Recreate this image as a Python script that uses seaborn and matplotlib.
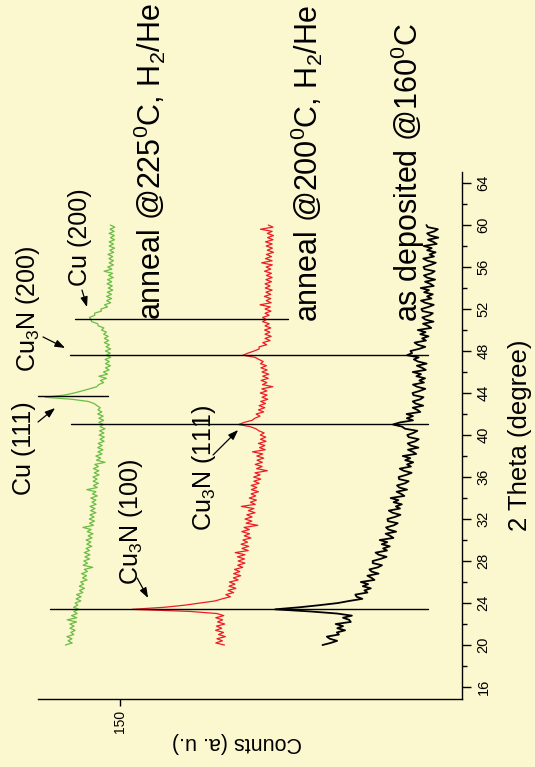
import numpy as np
import pandas as pd
import matplotlib
matplotlib.use("Agg")
import matplotlib.pyplot as plt
import seaborn as sns

# ---- XRD scans (2-theta in degrees, counts in arbitrary units, stacked) ----
two_theta = np.round(np.arange(20.0, 60.0001, 0.2), 1)

counts_225 = [
    174.0, 171.0, 172.8, 171.1, 173.3, 170.3, 171.6, 169.7, 172.0, 170.2,
    172.0, 169.1, 173.2, 169.0, 171.3, 168.8, 170.3, 168.0, 170.4, 168.5,
    169.7, 167.2, 169.3, 167.1, 169.1, 166.3, 167.8, 165.6, 167.9, 166.0,
    167.3, 164.5, 166.5, 164.7, 166.9, 164.3, 165.7, 162.0, 166.2, 164.3,
    165.9, 163.4, 165.4, 163.2, 165.7, 163.4, 164.9, 162.4, 164.6, 162.8,
    164.9, 162.3, 164.0, 161.9, 164.4, 162.7, 166.3, 161.7, 163.4, 161.2,
    163.5, 161.4, 163.2, 160.6, 162.9, 161.0, 163.2, 160.5, 162.3, 160.6,
    162.8, 160.0, 162.1, 160.6, 164.6, 160.0, 161.7, 159.5, 161.8, 160.1,
    161.9, 159.2, 161.3, 159.3, 161.7, 159.5, 161.1, 156.6, 160.3, 158.5,
    160.6, 157.9, 159.7, 157.5, 159.8, 157.9, 159.6, 157.0, 158.8, 156.9,
    159.2, 157.1, 159.0, 156.6, 158.8, 157.3, 159.3, 157.2, 159.3, 157.4,
    159.8, 158.0, 159.7, 158.7, 160.1, 161.4, 164.0, 171.0, 182.9, 174.6,
    170.2, 166.7, 163.5, 160.2, 159.4, 157.2, 158.6, 156.0, 159.3, 155.5,
    157.3, 154.8, 156.4, 154.2, 156.4, 154.7, 156.6, 154.1, 156.1, 154.3,
    156.4, 154.1, 156.1, 154.7, 156.9, 155.0, 156.9, 155.2, 157.2, 156.0,
    158.1, 157.1, 159.6, 159.8, 162.5, 162.8, 163.4, 161.1, 161.2, 158.2,
    158.4, 155.5, 156.8, 154.1, 155.9, 153.7, 155.9, 153.8, 155.6, 153.2,
    155.2, 153.4, 155.7, 153.7, 155.5, 153.0, 155.0, 153.3, 157.0, 153.6,
    155.4, 152.9, 154.8, 152.9, 154.9, 153.2, 155.3, 152.8, 154.5, 152.4,
    154.8, 152.9, 154.8, 152.4, 154.2, 152.5, 154.8, 152.6, 154.4, 152.3,
    154.3,
]

counts_200 = [
    104.2, 108.0, 105.1, 107.5, 103.8, 106.8, 104.6, 108.1, 105.4, 107.7,
    104.1, 107.2, 105.0, 108.0, 104.5, 107.5, 119.3, 144.7, 130.3, 121.5,
    114.9, 108.3, 105.2, 101.6, 103.6, 100.2, 102.6, 99.2, 102.2, 99.6,
    102.0, 98.2, 100.3, 97.1, 100.2, 97.5, 99.8, 96.2, 98.4, 95.2,
    98.2, 95.4, 98.5, 95.2, 99.5, 93.8, 96.5, 93.6, 96.9, 94.1,
    96.1, 92.6, 95.5, 93.2, 96.6, 93.3, 95.6, 89.6, 94.7, 92.2,
    95.2, 92.1, 94.4, 90.8, 93.7, 91.3, 96.8, 90.7, 92.8, 90.2,
    93.3, 90.5, 92.5, 89.3, 92.4, 90.0, 92.5, 89.0, 91.3, 88.3,
    91.4, 88.6, 90.8, 85.4, 90.1, 87.7, 90.7, 87.6, 89.9, 87.0,
    90.0, 87.4, 91.9, 86.3, 88.8, 86.5, 89.3, 86.0, 88.4, 86.1,
    88.5, 86.8, 89.1, 90.4, 93.0, 98.0, 95.6, 92.1, 90.9, 88.6,
    90.3, 87.0, 89.3, 86.5, 89.0, 86.2, 88.3, 85.2, 87.7, 85.5,
    88.5, 85.6, 87.8, 83.0, 87.5, 85.6, 88.1, 85.0, 87.4, 84.8,
    87.7, 85.5, 88.2, 85.8, 88.4, 87.2, 89.1, 90.8, 96.1, 93.9,
    91.2, 89.0, 89.0, 85.7, 87.4, 84.2, 86.4, 83.7, 86.4, 84.3,
    86.6, 83.9, 86.4, 84.6, 87.5, 85.8, 87.5, 84.6, 86.4, 83.8,
    86.4, 84.1, 88.6, 83.7, 85.9, 83.9, 86.7, 83.9, 86.0, 83.3,
    86.3, 84.2, 86.4, 83.6, 86.0, 83.3, 85.8, 83.6, 86.6, 83.9,
    85.9, 83.2, 87.9, 83.3, 86.2, 83.6, 85.8, 82.7, 85.4, 83.2,
    85.9, 83.3, 86.2, 82.9, 85.3, 82.7, 85.4, 83.3, 88.4, 82.9,
    85.0,
]

counts_160 = [
    61.2, 57.6, 54.8, 58.0, 59.3, 54.0, 54.9, 51.3, 54.7, 52.2,
    55.4, 48.8, 49.5, 52.2, 48.3, 54.8, 66.7, 82.0, 71.1, 62.3,
    54.4, 49.4, 43.7, 46.2, 46.8, 41.5, 42.8, 40.0, 43.5, 41.2,
    44.4, 38.4, 39.7, 41.5, 36.6, 39.7, 40.6, 36.9, 35.1, 39.1,
    39.2, 35.8, 33.1, 36.5, 37.9, 32.9, 34.6, 31.7, 35.2, 32.8,
    36.1, 30.1, 31.5, 33.5, 28.9, 32.3, 33.3, 29.9, 28.2, 32.5,
    32.7, 29.4, 27.0, 30.5, 32.1, 27.2, 29.0, 26.4, 30.0, 27.9,
    31.3, 25.3, 26.7, 28.7, 24.1, 27.5, 28.5, 25.0, 23.4, 27.6,
    27.8, 24.5, 22.1, 25.6, 27.3, 22.4, 24.1, 21.4, 24.9, 22.7,
    26.0, 20.1, 21.5, 23.7, 19.1, 22.6, 23.8, 20.5, 19.0, 23.4,
    24.0, 21.3, 19.6, 25.0, 26.3, 30.3, 27.2, 21.5, 24.2, 21.5,
    24.3, 18.3, 19.6, 21.6, 17.0, 20.4, 21.6, 18.3, 16.9, 21.3,
    21.7, 18.5, 16.1, 19.7, 21.5, 16.7, 18.7, 16.2, 20.0, 18.0,
    21.6, 15.9, 17.5, 19.8, 15.5, 19.3, 21.1, 19.0, 24.1, 21.9,
    22.6, 18.9, 16.1, 19.4, 20.8, 15.8, 17.5, 14.7, 18.3, 16.0,
    19.4, 13.5, 14.9, 17.1, 12.5, 16.1, 17.4, 14.2, 12.8, 17.3,
    17.8, 14.7, 12.4, 16.2, 18.0, 13.4, 15.3, 12.8, 16.6, 14.5,
    18.1, 12.4, 13.9, 16.2, 11.8, 15.4, 16.7, 13.4, 12.0, 16.4,
    16.9, 13.8, 11.5, 15.2, 17.0, 12.3, 14.2, 11.6, 15.3, 13.3,
    16.8, 11.1, 12.6, 14.9, 10.4, 14.1, 15.3, 12.1, 10.6, 15.1,
    15.6,
]

sample_names = ["anneal 225C", "anneal 200C", "as deposited 160C"]
sample_labels = [
    "anneal @225$^0$C, H$_2$/He",
    "anneal @200$^0$C, H$_2$/He",
    "as deposited @160$^0$C",
]
sample_colors = ["#6abd45", "#ee1c24", "#000000"]
sample_widths = [0.9, 0.9, 1.3]

# reflection markers: 2-theta position and the count range each line spans
ref_two_theta = [23.46, 41.09, 47.66, 51.04, 43.68]
ref_count_from = [180.7, 171.5, 171.9, 169.7, 185.9]
ref_count_to = [14.9, 14.9, 14.9, 76.3, 155.3]

theta_ticks = list(range(16, 65, 4))
count_ticks = [150]

# ---- style ----
sns.set_theme(style="white")
bg = "#fbf8cf"
plt.rcParams["font.family"] = ["Liberation Sans", "DejaVu Sans"]
plt.rcParams["mathtext.fontset"] = "custom"
plt.rcParams["mathtext.rm"] = "Liberation Sans"
plt.rcParams["mathtext.it"] = "Liberation Sans:italic"
plt.rcParams["mathtext.bf"] = "Liberation Sans:bold"
for key in ["text.color", "axes.labelcolor", "xtick.color", "ytick.color"]:
    plt.rcParams[key] = "black"

W, H = 535, 767
fig = plt.figure(figsize=(W / 100, H / 100), dpi=100, facecolor=bg)
ax = fig.add_axes([38 / W, 1 - 699 / H, (462 - 38) / W, (699 - 172) / H])
ax.set_facecolor(bg)

frames = []
for name, vals in zip(sample_names, [counts_225, counts_200, counts_160]):
    assert len(vals) == len(two_theta)
    frames.append(pd.DataFrame({"two_theta": two_theta, "counts": vals, "sample": name}))
df = pd.concat(frames, ignore_index=True)

for name, color, lw in zip(sample_names, sample_colors, sample_widths):
    sub = df[df["sample"] == name]
    sns.lineplot(data=sub, x="counts", y="two_theta", orient="y", sort=True,
                 estimator=None, color=color, lw=lw, ax=ax, legend=False)

for th, c0, c1 in zip(ref_two_theta, ref_count_from, ref_count_to):
    ax.plot([c0, c1], [th, th], color="black", lw=1.0, clip_on=False)

# counts grow to the left, 2-theta grows upward
ax.set_xlim(186.0, 0.0)
ax.set_ylim(14.86, 65.05)

for side in ["left", "top"]:
    ax.spines[side].set_visible(False)
for side in ["right", "bottom"]:
    ax.spines[side].set_visible(True)
    ax.spines[side].set_color("black")
    ax.spines[side].set_linewidth(1.0)

ax.yaxis.tick_right()
ax.yaxis.set_label_position("right")
ax.set_yticks(theta_ticks)
ax.set_yticks(list(range(18, 65, 4)), minor=True)
ax.set_xticks(count_ticks)
ax.tick_params(axis="y", which="major", direction="out", length=6.5, width=1.0,
               labelsize=10.5, labelrotation=90, pad=4, colors="black", right=True, left=False)
ax.tick_params(axis="y", which="minor", direction="out", length=3.5, width=1.0,
               right=True, left=False, colors="black")
ax.tick_params(axis="x", which="major", direction="out", length=5, width=1.0,
               labelsize=10, labelrotation=90, pad=3, colors="black", bottom=True)
for lab in ax.get_yticklabels():
    lab.set_verticalalignment("center")

ax.set_ylabel("2 Theta (degree)", fontsize=18.5, rotation=90)
ax.yaxis.set_label_coords(1.1085, 0.501)
ax.set_xlabel("Counts (a. u.)", fontsize=15.5, rotation=180)
ax.xaxis.set_label_coords(0.469, -0.062)

# ---- sample captions ----
def fxy(x, y):
    return x / W, 1 - y / H

caption_pos = [(150, 320), (307, 322), (408, 322)]
for text, (x, y) in zip(sample_labels, caption_pos):
    fig.text(*fxy(x, y), text, rotation=90, ha="center", va="bottom", fontsize=22)

# ---- reflection labels and arrows ----
peak_labels = [
    ("Cu (111)", 24.5, 448),
    ("Cu$_3$N (200)", 28, 309),
    ("Cu (200)", 80, 237),
    ("Cu$_3$N (100)", 131, 522),
    ("Cu$_3$N (111)", 204, 468),
]
for text, x, y in peak_labels:
    fig.text(*fxy(x, y), text, rotation=90, ha="center", va="center", fontsize=18)

arrows = [
    ((186.0, 41.24), (178.5, 42.57)),
    ((183.8, 49.34), (174.1, 48.29)),
    ((166.7, 53.81), (164.5, 52.19)),
    ((142.5, 26.38), (137.7, 24.48)),
    ((109.2, 38.10), (98.2, 40.48)),
]
for tail, tip in arrows:
    ax.annotate("", xy=tip, xytext=tail, annotation_clip=False,
                arrowprops=dict(arrowstyle="-|>,head_length=0.5,head_width=0.18",
                                color="black", lw=0.9, shrinkA=0, shrinkB=0))

fig.savefig("out.png", dpi=100, facecolor=bg)
